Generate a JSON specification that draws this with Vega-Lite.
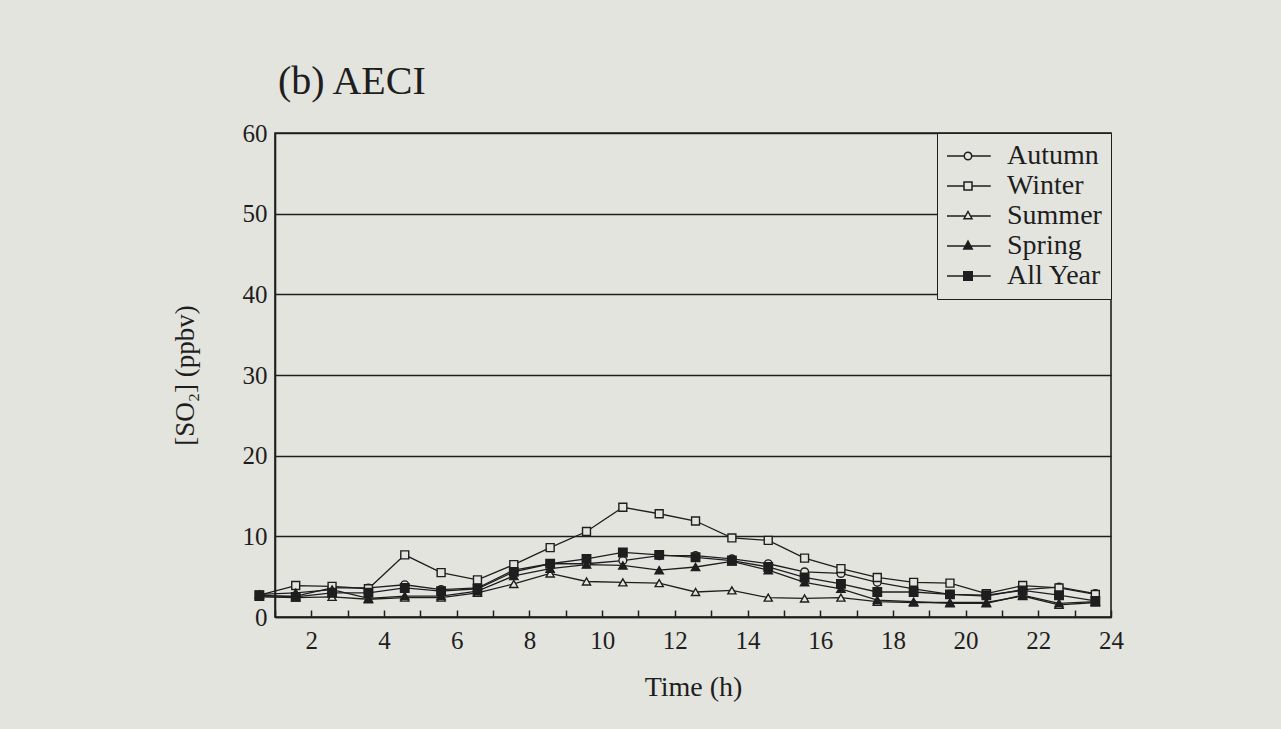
{
  "$schema": "https://vega.github.io/schema/vega-lite/v6.json",
  "autosize": "none",
  "width": 836,
  "height": 484,
  "padding": {"left": 275, "top": 133, "right": 170, "bottom": 112},
  "background": "#e4e4df",
  "title": {"text": "(b) AECI", "anchor": "start", "frame": "group", "font": "Liberation Serif", "fontSize": 40, "fontWeight": "normal", "color": "#1e1e1e", "offset": 19, "dx": 3},
  "config": {"view": {"stroke": "#1e1e1e", "strokeWidth": 1.6}, "font": "Liberation Serif"},
  "datasets": {
    "so2": [
      {"hour": 0.57, "season": "Autumn", "so2": 2.6}, {"hour": 1.57, "season": "Autumn", "so2": 2.6}, {"hour": 2.57, "season": "Autumn", "so2": 3.6}, {"hour": 3.57, "season": "Autumn", "so2": 3.6}, {"hour": 4.57, "season": "Autumn", "so2": 4.0}, {"hour": 5.57, "season": "Autumn", "so2": 3.4}, {"hour": 6.57, "season": "Autumn", "so2": 3.6}, {"hour": 7.57, "season": "Autumn", "so2": 5.8}, {"hour": 8.57, "season": "Autumn", "so2": 6.6}, {"hour": 9.57, "season": "Autumn", "so2": 6.6}, {"hour": 10.57, "season": "Autumn", "so2": 7.0}, {"hour": 11.57, "season": "Autumn", "so2": 7.6}, {"hour": 12.57, "season": "Autumn", "so2": 7.6}, {"hour": 13.57, "season": "Autumn", "so2": 7.2}, {"hour": 14.57, "season": "Autumn", "so2": 6.6}, {"hour": 15.57, "season": "Autumn", "so2": 5.6}, {"hour": 16.57, "season": "Autumn", "so2": 5.4}, {"hour": 17.57, "season": "Autumn", "so2": 4.3}, {"hour": 18.57, "season": "Autumn", "so2": 3.5}, {"hour": 19.57, "season": "Autumn", "so2": 2.8}, {"hour": 20.57, "season": "Autumn", "so2": 2.6}, {"hour": 21.57, "season": "Autumn", "so2": 3.4}, {"hour": 22.57, "season": "Autumn", "so2": 3.7}, {"hour": 23.57, "season": "Autumn", "so2": 2.9},
      {"hour": 0.57, "season": "Winter", "so2": 2.7}, {"hour": 1.57, "season": "Winter", "so2": 3.9}, {"hour": 2.57, "season": "Winter", "so2": 3.8}, {"hour": 3.57, "season": "Winter", "so2": 3.5}, {"hour": 4.57, "season": "Winter", "so2": 7.7}, {"hour": 5.57, "season": "Winter", "so2": 5.5}, {"hour": 6.57, "season": "Winter", "so2": 4.6}, {"hour": 7.57, "season": "Winter", "so2": 6.5}, {"hour": 8.57, "season": "Winter", "so2": 8.6}, {"hour": 9.57, "season": "Winter", "so2": 10.6}, {"hour": 10.57, "season": "Winter", "so2": 13.6}, {"hour": 11.57, "season": "Winter", "so2": 12.8}, {"hour": 12.57, "season": "Winter", "so2": 11.9}, {"hour": 13.57, "season": "Winter", "so2": 9.8}, {"hour": 14.57, "season": "Winter", "so2": 9.5}, {"hour": 15.57, "season": "Winter", "so2": 7.3}, {"hour": 16.57, "season": "Winter", "so2": 6.0}, {"hour": 17.57, "season": "Winter", "so2": 4.9}, {"hour": 18.57, "season": "Winter", "so2": 4.3}, {"hour": 19.57, "season": "Winter", "so2": 4.2}, {"hour": 20.57, "season": "Winter", "so2": 2.9}, {"hour": 21.57, "season": "Winter", "so2": 3.9}, {"hour": 22.57, "season": "Winter", "so2": 3.6}, {"hour": 23.57, "season": "Winter", "so2": 2.8},
      {"hour": 0.57, "season": "Summer", "so2": 2.5}, {"hour": 1.57, "season": "Summer", "so2": 2.4}, {"hour": 2.57, "season": "Summer", "so2": 2.5}, {"hour": 3.57, "season": "Summer", "so2": 2.2}, {"hour": 4.57, "season": "Summer", "so2": 2.4}, {"hour": 5.57, "season": "Summer", "so2": 2.4}, {"hour": 6.57, "season": "Summer", "so2": 3.0}, {"hour": 7.57, "season": "Summer", "so2": 4.1}, {"hour": 8.57, "season": "Summer", "so2": 5.4}, {"hour": 9.57, "season": "Summer", "so2": 4.4}, {"hour": 10.57, "season": "Summer", "so2": 4.3}, {"hour": 11.57, "season": "Summer", "so2": 4.2}, {"hour": 12.57, "season": "Summer", "so2": 3.1}, {"hour": 13.57, "season": "Summer", "so2": 3.3}, {"hour": 14.57, "season": "Summer", "so2": 2.4}, {"hour": 15.57, "season": "Summer", "so2": 2.3}, {"hour": 16.57, "season": "Summer", "so2": 2.4}, {"hour": 17.57, "season": "Summer", "so2": 1.9}, {"hour": 18.57, "season": "Summer", "so2": 1.8}, {"hour": 19.57, "season": "Summer", "so2": 1.8}, {"hour": 20.57, "season": "Summer", "so2": 1.8}, {"hour": 21.57, "season": "Summer", "so2": 2.6}, {"hour": 22.57, "season": "Summer", "so2": 1.5}, {"hour": 23.57, "season": "Summer", "so2": 1.8},
      {"hour": 0.57, "season": "Spring", "so2": 2.8}, {"hour": 1.57, "season": "Spring", "so2": 3.0}, {"hour": 2.57, "season": "Spring", "so2": 3.4}, {"hour": 3.57, "season": "Spring", "so2": 2.3}, {"hour": 4.57, "season": "Spring", "so2": 2.6}, {"hour": 5.57, "season": "Spring", "so2": 2.6}, {"hour": 6.57, "season": "Spring", "so2": 3.2}, {"hour": 7.57, "season": "Spring", "so2": 5.1}, {"hour": 8.57, "season": "Spring", "so2": 6.0}, {"hour": 9.57, "season": "Spring", "so2": 6.5}, {"hour": 10.57, "season": "Spring", "so2": 6.4}, {"hour": 11.57, "season": "Spring", "so2": 5.8}, {"hour": 12.57, "season": "Spring", "so2": 6.2}, {"hour": 13.57, "season": "Spring", "so2": 6.9}, {"hour": 14.57, "season": "Spring", "so2": 5.8}, {"hour": 15.57, "season": "Spring", "so2": 4.3}, {"hour": 16.57, "season": "Spring", "so2": 3.5}, {"hour": 17.57, "season": "Spring", "so2": 2.1}, {"hour": 18.57, "season": "Spring", "so2": 1.9}, {"hour": 19.57, "season": "Spring", "so2": 1.7}, {"hour": 20.57, "season": "Spring", "so2": 1.7}, {"hour": 21.57, "season": "Spring", "so2": 2.7}, {"hour": 22.57, "season": "Spring", "so2": 1.7}, {"hour": 23.57, "season": "Spring", "so2": 1.9},
      {"hour": 0.57, "season": "All Year", "so2": 2.7}, {"hour": 1.57, "season": "All Year", "so2": 2.5}, {"hour": 2.57, "season": "All Year", "so2": 3.0}, {"hour": 3.57, "season": "All Year", "so2": 3.0}, {"hour": 4.57, "season": "All Year", "so2": 3.6}, {"hour": 5.57, "season": "All Year", "so2": 3.2}, {"hour": 6.57, "season": "All Year", "so2": 3.5}, {"hour": 7.57, "season": "All Year", "so2": 5.6}, {"hour": 8.57, "season": "All Year", "so2": 6.6}, {"hour": 9.57, "season": "All Year", "so2": 7.2}, {"hour": 10.57, "season": "All Year", "so2": 8.0}, {"hour": 11.57, "season": "All Year", "so2": 7.7}, {"hour": 12.57, "season": "All Year", "so2": 7.4}, {"hour": 13.57, "season": "All Year", "so2": 7.0}, {"hour": 14.57, "season": "All Year", "so2": 6.2}, {"hour": 15.57, "season": "All Year", "so2": 4.9}, {"hour": 16.57, "season": "All Year", "so2": 4.1}, {"hour": 17.57, "season": "All Year", "so2": 3.1}, {"hour": 18.57, "season": "All Year", "so2": 3.1}, {"hour": 19.57, "season": "All Year", "so2": 2.8}, {"hour": 20.57, "season": "All Year", "so2": 2.7}, {"hour": 21.57, "season": "All Year", "so2": 3.3}, {"hour": 22.57, "season": "All Year", "so2": 2.7}, {"hour": 23.57, "season": "All Year", "so2": 2.0}
    ]
  },
  "data": {"name": "so2"},
  "encoding": {
    "x": {
      "field": "hour", "type": "quantitative",
      "scale": {"domain": [1, 24], "nice": false, "zero": false},
      "axis": {
        "title": "Time (h)",
        "values": [1, 2, 3, 4, 5, 6, 7, 8, 9, 10, 11, 12, 13, 14, 15, 16, 17, 18, 19, 20, 21, 22, 23, 24],
        "labelExpr": "datum.value % 2 === 0 ? datum.label : ''",
        "labelOverlap": false, "labelFlush": false, "labelBound": false,
        "grid": false,
        "tickSize": -7, "tickColor": "#1e1e1e", "tickWidth": 1.5,
        "domainColor": "#1e1e1e", "domainWidth": 1.6,
        "labelFont": "Liberation Serif", "labelFontSize": 25, "labelColor": "#1e1e1e", "labelPadding": 18,
        "titleFont": "Liberation Serif", "titleFontSize": 28, "titleFontWeight": "normal", "titleColor": "#1e1e1e", "titlePadding": 20
      }
    },
    "y": {
      "field": "so2", "type": "quantitative",
      "scale": {"domain": [0, 60], "nice": false},
      "axis": {
        "title": "[SO₂] (ppbv)",
        "values": [0, 10, 20, 30, 40, 50, 60],
        "grid": true, "gridColor": "#1e1e1e", "gridWidth": 1.5,
        "ticks": false,
        "domainColor": "#1e1e1e", "domainWidth": 1.6,
        "labelFont": "Liberation Serif", "labelFontSize": 25, "labelColor": "#1e1e1e", "labelPadding": 8,
        "titleFont": "Liberation Serif", "titleFontSize": 27, "titleFontWeight": "normal", "titleColor": "#1e1e1e", "titlePadding": 43
      }
    }
  },
  "layer": [
    {
      "mark": {"type": "line", "stroke": "#1e1e1e", "clip": false},
      "encoding": {
        "detail": {"field": "season"},
        "strokeWidth": {"field": "season", "type": "nominal", "scale": {"domain": ["Autumn", "Winter", "Summer", "Spring", "All Year"], "range": [1.3, 1.3, 1.3, 1.5, 2.2]}, "legend": null}
      }
    },
    {
      "mark": {"type": "point", "filled": true, "stroke": "#1e1e1e", "strokeWidth": 1.4, "opacity": 1, "clip": false},
      "encoding": {
        "shape": {"field": "season", "type": "nominal", "scale": {"domain": ["Autumn", "Winter", "Summer", "Spring", "All Year"], "range": ["circle", "square", "triangle-up", "triangle-up", "square"]}, "legend": null},
        "fill": {"field": "season", "type": "nominal", "scale": {"domain": ["Autumn", "Winter", "Summer", "Spring", "All Year"], "range": ["#e4e4df", "#e4e4df", "#e4e4df", "#1e1e1e", "#1e1e1e"]}, "legend": null},
        "size": {"field": "season", "type": "nominal", "scale": {"domain": ["Autumn", "Winter", "Summer", "Spring", "All Year"], "range": [60, 72, 55, 66, 72]}, "legend": null}
      }
    },
    {
      "transform": [{"filter": "datum.so2 < 0"}],
      "mark": {"type": "point", "filled": true, "stroke": "#1e1e1e", "strokeWidth": 1.4, "opacity": 1},
      "encoding": {
        "shape": {
          "field": "season", "type": "nominal",
          "scale": {"domain": ["Autumn", "Winter", "Summer", "Spring", "All Year"], "range": [
            "M-2,0H-0.62M-0.02,0H1.5M-0.02,0A0.3,0.3 0 1,1 -0.62,0A0.3,0.3 0 1,1 -0.02,0Z",
            "M-2,0H-0.64M0,0H1.5M-0.64,-0.32H0V0.32H-0.64Z",
            "M-2,0H-0.5M-0.14,0H1.5M-0.32,-0.36L0,0.22H-0.64Z",
            "M-2,0H1.5M-0.32,-0.4L0.02,0.24H-0.66Z",
            "M-2,0H1.5M-0.66,-0.34H0.02V0.34H-0.66Z"
          ]},
          "legend": {
            "title": null, "orient": "top-right", "offset": 0,
            "strokeColor": "#1e1e1e", "fillColor": "#e4e4df", "padding": 9,
            "symbolSize": 625, "symbolOffset": 12, "symbolOpacity": 1,
            "labelFont": "Liberation Serif", "labelFontSize": 28, "labelColor": "#1e1e1e", "labelOffset": 21,
            "rowPadding": 2,
            "encode": {
              "symbols": {
                "fill": {"value": {"expr": "datum.value == 'Spring' || datum.value == 'All Year' ? '#1e1e1e' : '#e4e4df'"}},
                "size": {"value": 625},
                "stroke": {"value": "#1e1e1e"},
                "strokeWidth": {"value": 1.4},
                "opacity": {"value": 1}
              }
            }
          }
        },
        "fill": {
          "field": "season", "type": "nominal",
          "scale": {"domain": ["Autumn", "Winter", "Summer", "Spring", "All Year"], "range": ["#e4e4df", "#e4e4df", "#e4e4df", "#1e1e1e", "#1e1e1e"]},
          "legend": {"title": null, "orient": "top-right"}
        }
      }
    }
  ],
  "resolve": {"scale": {"shape": "independent", "fill": "independent", "size": "independent", "strokeWidth": "independent"}}
}
